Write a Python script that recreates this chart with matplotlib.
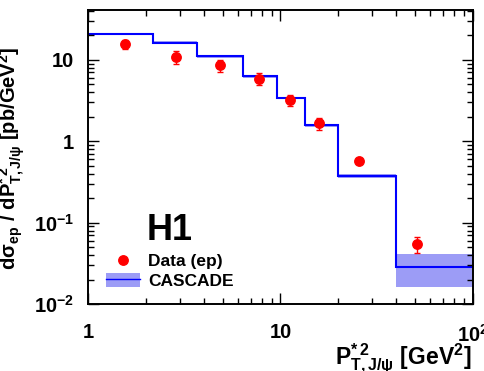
import matplotlib
matplotlib.use("Agg")
import matplotlib.pyplot as plt
from matplotlib.patches import Patch
from matplotlib.lines import Line2D
import numpy as np

plt.rcParams['font.family'] = ['Liberation Sans', 'DejaVu Sans']
plt.rcParams['font.weight'] = 'bold'
plt.rcParams['mathtext.fontset'] = 'custom'
plt.rcParams['mathtext.rm'] = 'Liberation Sans:bold'
plt.rcParams['mathtext.bf'] = 'Liberation Sans:bold'
plt.rcParams['mathtext.it'] = 'Liberation Sans:bold'
plt.rcParams['mathtext.sf'] = 'Liberation Sans:bold'

# CASCADE prediction (histogram)
bin_edges = [1.0, 2.18, 3.67, 6.36, 9.55, 13.4, 20.0, 40.0, 100.0]
cascade = [20.9, 16.3, 11.1, 6.33, 3.40, 1.57, 0.372, 0.0287]
cascade_lo = [20.2, 15.7, 10.6, 6.05, 3.26, 1.49, 0.352, 0.016]
cascade_hi = [21.6, 16.9, 11.6, 6.60, 3.54, 1.64, 0.392, 0.041]

# H1 data
data_x = [1.556, 2.87, 4.85, 7.73, 11.2, 15.85, 25.5, 51.0]
data_y = [15.5, 10.8, 8.57, 5.82, 3.25, 1.68, 0.569, 0.054]
data_lo = [13.5, 8.85, 7.1, 4.9, 2.7, 1.39, 0.535, 0.0427]
data_hi = [17.6, 12.7, 10.1, 6.8, 3.7, 1.95, 0.605, 0.066]

x_ticks = [1, 10, 100]
x_ticklabels = ['1', '10', r'$10^{2}$']
y_ticks = [0.01, 0.1, 1, 10]
y_ticklabels = [r'$10^{-2}$', r'$10^{-1}$', '1', '10']

W, H = 485, 371
fig = plt.figure(figsize=(W / 100, H / 100), dpi=100)
ax = fig.add_axes([88 / W, 1 - 304 / H, 385 / W, 294 / H])

band_color = '#9c9cf6'
for i in range(len(cascade)):
    ax.fill_between([bin_edges[i], bin_edges[i + 1]], [cascade_lo[i]] * 2,
                    [cascade_hi[i]] * 2, color=band_color, lw=0)
ax.stairs(cascade, bin_edges, baseline=None, color='#0000ff', lw=1.5)

yerr = [np.array(data_y) - np.array(data_lo), np.array(data_hi) - np.array(data_y)]
ax.errorbar(data_x, data_y, yerr=yerr, fmt='o', color='#ff0000', ms=6.8,
            elinewidth=1, capsize=2, capthick=1)

ax.set_xscale('log')
ax.set_yscale('log')
ax.set_xlim(1, 100)
ax.set_ylim(0.01, 41)
ax.set_xticks(x_ticks, x_ticklabels)
ax.set_yticks(y_ticks, y_ticklabels)
ax.tick_params(which='both', direction='in', top=True, right=True, width=1)
ax.tick_params(which='major', length=8, labelsize=14.5, pad=10)
ax.tick_params(which='minor', length=4)
ax.tick_params(axis='x', which='major', pad=14)
for s in ax.spines.values():
    s.set_linewidth(1.4)

# axis titles placed in pixel positions like the original
fig.text(27 / W, 1 - 270 / H,
         r'$\mathbf{d\sigma_{ep}\ /\ dP^{*\,2}_{T,J/\psi}}$ [pb/GeV$^{2}$]',
         rotation=90, ha='right', va='bottom', fontsize=14.5, fontweight='bold')
fig.text(472 / W, 1 - 364 / H, r'P$^{*\,2}_{T,J/\psi}$ [GeV$^{2}$]',
         ha='right', va='baseline', fontsize=16.5, fontweight='bold')

fig.text(147 / W, 1 - 240 / H, 'H1', ha='left', va='baseline',
         fontsize=26, fontweight='bold')

handles = [Line2D([], [], marker='o', color='#ff0000', ls='none', ms=6.8),
           (Patch(color=band_color, lw=0), Line2D([], [], color='#0000ff', lw=1))]
ax.legend(handles, ['Data (ep)', 'CASCADE'], loc='center left',
          bbox_to_anchor=(106 / W, 1 - 271 / H), bbox_transform=fig.transFigure,
          frameon=False, fontsize=12.5, handlelength=1.95, handleheight=0.9,
          handletextpad=0.46, borderpad=0, borderaxespad=0, labelspacing=0.2)

fig.savefig('out.png', dpi=100)
